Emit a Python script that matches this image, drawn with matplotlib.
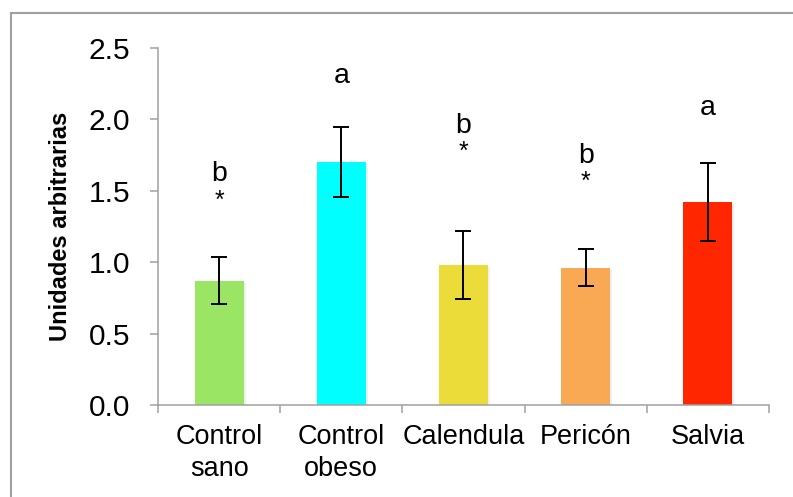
import matplotlib.pyplot as plt
import matplotlib.patheffects as pe
from matplotlib.patches import Rectangle
import numpy as np

plt.rcParams['font.family'] = ['Liberation Sans', 'DejaVu Sans']

grupos = ['Control\nsano', 'Control\nobeso', 'Calendula', 'Pericón', 'Salvia']
medias = [0.87, 1.70, 0.98, 0.96, 1.42]
errores = [0.165, 0.245, 0.24, 0.13, 0.275]
colores = ['#9be564', '#00ffff', '#ebdc3a', '#f9a854', '#ff2600']

# letras de significancia y asteriscos sobre cada barra
letras = ['b', 'a', 'b', 'b', 'a']
letras_y = [1.57, 2.25, 1.90, 1.69, 2.03]
asteriscos = ['*', '', '*', '*', '']
asteriscos_y = [1.43, 2.0, 1.77, 1.56, 2.0]

gris = '#a0a0a0'

fig = plt.figure(figsize=(7.93, 4.97), dpi=100)
ax = fig.add_axes([0.1992, 0.185, 0.7705, 0.719])

x = np.arange(len(grupos))
barras = ax.bar(x, medias, width=0.4, color=colores, zorder=2)
for b in barras:
    b.set_path_effects([pe.SimplePatchShadow(offset=(1.5, -1.5), alpha=0.07), pe.Normal()])
ax.errorbar(x, medias, yerr=errores, fmt='none', ecolor='black',
            elinewidth=1.4, capsize=5.5, capthick=1.4, zorder=3)

for i in range(len(grupos)):
    ax.text(x[i], letras_y[i], letras[i], ha='center', va='baseline', fontsize=20.5)
    if asteriscos[i]:
        ax.text(x[i], asteriscos_y[i], asteriscos[i], ha='center', va='center', fontsize=18)

ax.set_xlim(-0.5, len(grupos) - 0.5)
ax.set_ylim(0, 2.5)
ax.set_yticks([0, 0.5, 1.0, 1.5, 2.0, 2.5])
ax.set_yticklabels(['0.0', '0.5', '1.0', '1.5', '2.0', '2.5'])
ax.tick_params(axis='y', length=6, width=1.1, color=gris, pad=14, labelsize=21.5)

# ticks mayores entre categorías, nombres en ticks menores
ax.set_xticks(np.arange(-0.5, len(grupos)), labels=[])
ax.set_xticks(x, labels=grupos, minor=True)
ax.tick_params(axis='x', which='major', length=6, width=1.1, color=gris)
ax.tick_params(axis='x', which='minor', length=0, pad=14, labelsize=19.5)
for t in ax.get_xticklabels(minor=True):
    t.set_linespacing(1.3)

ax.set_ylabel('Unidades arbitrarias', fontsize=17, fontweight='bold', labelpad=12)

for s in ['top', 'right']:
    ax.spines[s].set_visible(False)
for s in ['left', 'bottom']:
    ax.spines[s].set_color(gris)
    ax.spines[s].set_linewidth(1.1)

fig.patches.append(Rectangle((0.0139, -0.02), 1.1, 0.994, transform=fig.transFigure,
                             fill=False, edgecolor=gris, linewidth=1.5))

fig.savefig('out.png', dpi=100)
